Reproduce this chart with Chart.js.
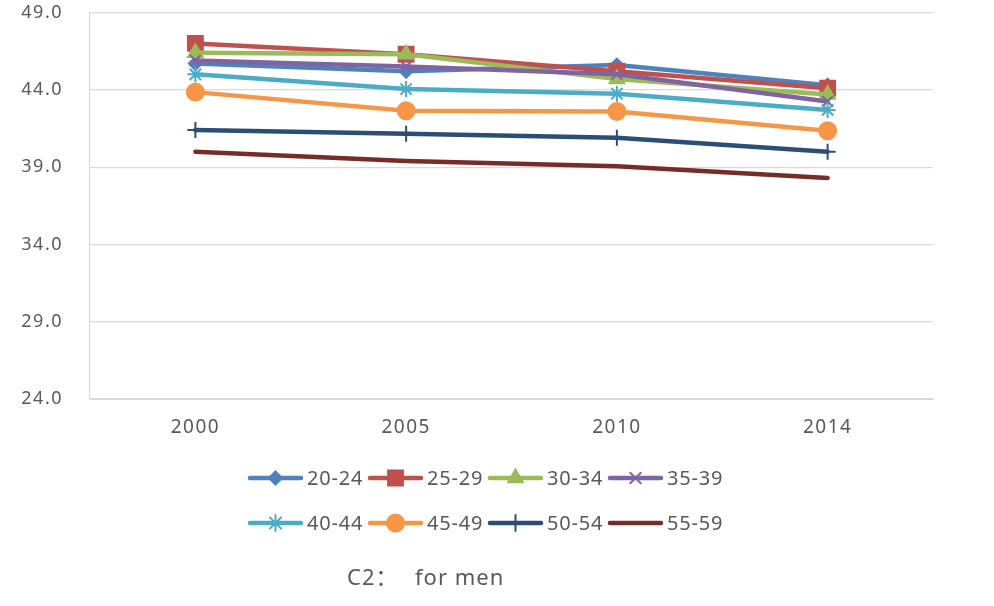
<!DOCTYPE html>
<html>
<head>
<meta charset="utf-8">
<script src="https://cdn.jsdelivr.net/npm/chart.js@4/dist/chart.umd.min.js"></script>
<style>
  html, body { margin: 0; padding: 0; background: #ffffff; }
  #wrap { position: relative; width: 994px; height: 606px; }
</style>
</head>
<body>
<div id="wrap"><canvas id="c" width="994" height="606"></canvas></div>
<script>
// Survey years on the x axis
const years = ['2000', '2005', '2010', '2014'];

// Age groups (one line each)
const groups = ['20-24', '25-29', '30-34', '35-39', '40-44', '45-49', '50-54', '55-59'];

// Values per age group, in year order
const v20_24 = [45.7, 45.2, 45.6, 44.3];
const v25_29 = [47.0, 46.3, 45.2, 44.1];
const v30_34 = [46.4, 46.3, 44.7, 43.7];
const v35_39 = [45.9, 45.5, 45.0, 43.25];
const v40_44 = [45.0, 44.05, 43.75, 42.7];
const v45_49 = [43.85, 42.65, 42.6, 41.35];
const v50_54 = [41.4, 41.15, 40.9, 40.0];
const v55_59 = [40.0, 39.4, 39.05, 38.3];

// Value axis range and step
const yMin = 24, yMax = 49, yStep = 5;

const caption = 'C2：';
const captionTail = 'for men';

const seriesValues = [v20_24, v25_29, v30_34, v35_39, v40_44, v45_49, v50_54, v55_59];
const colors = ['#4F81BD', '#C0504D', '#9BBB59', '#8064A2', '#4BACC6', '#F79646', '#2C4D75', '#772C2A'];
const markers = ['rectRot', 'rect', 'triangle', 'crossRot', 'star', 'circle', 'cross', false];
const radii = [6.5, 10.5, 8.5, 7.5, 8, 8.5, 8, 0];

const TEXT = '#595959';
const FONT = '"Noto Sans", "Open Sans", sans-serif';

const datasets = groups.map((g, i) => ({
  label: g,
  data: seriesValues[i],
  borderColor: colors[i],
  backgroundColor: colors[i],
  borderWidth: 4.5,
  borderJoinStyle: 'round',
  borderCapStyle: 'round',
  tension: 0,
  pointStyle: markers[i],
  pointRadius: radii[i],
  pointHoverRadius: radii[i],
  pointBackgroundColor: colors[i],
  pointBorderColor: colors[i],
  pointBorderWidth: 2,
  order: groups.length - i
}));

// Small marker painter used for the legend swatches
function drawMarker(ctx, style, x, y, r, color) {
  if (!style || !r) return;
  ctx.save();
  ctx.fillStyle = color;
  ctx.strokeStyle = color;
  ctx.lineWidth = 2;
  ctx.beginPath();
  const d = r * Math.SQRT1_2;
  switch (style) {
    case 'rectRot':
      ctx.moveTo(x, y - r); ctx.lineTo(x + r, y); ctx.lineTo(x, y + r); ctx.lineTo(x - r, y); ctx.closePath();
      ctx.fill(); ctx.stroke(); break;
    case 'rect':
      ctx.rect(x - d, y - d, 2 * d, 2 * d); ctx.fill(); ctx.stroke(); break;
    case 'triangle': {
      const s = Math.sin(Math.PI / 3) * r;
      ctx.moveTo(x, y - r); ctx.lineTo(x + s, y + r / 2); ctx.lineTo(x - s, y + r / 2); ctx.closePath();
      ctx.fill(); ctx.stroke(); break;
    }
    case 'circle':
      ctx.arc(x, y, r, 0, Math.PI * 2); ctx.fill(); ctx.stroke(); break;
    case 'crossRot':
      ctx.moveTo(x - d, y - d); ctx.lineTo(x + d, y + d);
      ctx.moveTo(x - d, y + d); ctx.lineTo(x + d, y - d); ctx.stroke(); break;
    case 'cross':
      ctx.moveTo(x, y - r); ctx.lineTo(x, y + r);
      ctx.moveTo(x - r, y); ctx.lineTo(x + r, y); ctx.stroke(); break;
    case 'star':
      ctx.moveTo(x, y - r); ctx.lineTo(x, y + r);
      ctx.moveTo(x - r, y); ctx.lineTo(x + r, y);
      ctx.moveTo(x - d, y - d); ctx.lineTo(x + d, y + d);
      ctx.moveTo(x - d, y + d); ctx.lineTo(x + d, y - d); ctx.stroke(); break;
  }
  ctx.restore();
}

// Wider tracking for the axis labels, then the legend and caption
const decor = {
  id: 'decor',
  beforeDraw(chart) {
    chart.ctx.letterSpacing = '1.5px';
  },
  afterDraw(chart) {
    const ctx = chart.ctx;
    ctx.save();
    ctx.letterSpacing = '0.8px';
    ctx.font = '20px ' + FONT;
    ctx.textBaseline = 'middle';
    ctx.textAlign = 'left';
    const startX = 248, pitch = 120, rowY = [478, 523], lineLen = 55;
    chart.data.datasets.forEach((ds, i) => {
      const col = i % 4, row = Math.floor(i / 4);
      const x0 = startX + col * pitch, y = rowY[row];
      ctx.strokeStyle = ds.borderColor;
      ctx.lineWidth = 4.5;
      ctx.lineCap = 'round';
      ctx.beginPath();
      ctx.moveTo(x0 + 2, y);
      ctx.lineTo(x0 + lineLen - 2, y);
      ctx.stroke();
      drawMarker(ctx, ds.pointStyle, x0 + lineLen / 2, y, ds.pointRadius, ds.borderColor);
      ctx.fillStyle = TEXT;
      ctx.fillText(ds.label, x0 + lineLen + 4, y + 1);
    });
    ctx.letterSpacing = '1px';
    ctx.font = '22px ' + FONT + ', "Noto Sans CJK SC"';
    ctx.fillText(caption, 347, 579);
    ctx.fillText(captionTail, 415, 579);
    ctx.restore();
    ctx.letterSpacing = '0px';
  }
};

new Chart(document.getElementById('c'), {
  type: 'line',
  data: { labels: years, datasets },
  plugins: [decor],
  options: {
    responsive: false,
    animation: false,
    layout: { padding: { top: 12, right: 61, bottom: 167, left: 0 } },
    plugins: {
      legend: { display: false },
      tooltip: { enabled: false },
      title: { display: false }
    },
    scales: {
      x: {
        offset: true,
        grid: { display: false, drawTicks: false },
        border: { display: true, color: '#D9D9D9', width: 1 },
        ticks: {
          color: TEXT,
          font: { family: FONT, size: 19 },
          padding: 17,
          maxRotation: 0
        },
        afterFit(scale) { scale.height = 40; }
      },
      y: {
        min: yMin,
        max: yMax,
        grid: { color: '#D9D9D9', lineWidth: 1.2, drawTicks: false },
        border: { display: true, color: '#D9D9D9', width: 1.2 },
        ticks: {
          stepSize: yStep,
          color: TEXT,
          font: { family: FONT, size: 18 },
          padding: 27,
          callback: v => Number(v).toFixed(1)
        },
        afterFit(scale) {
          scale.width = 90;
          scale.paddingTop = 0;
          scale.paddingBottom = 0;
        }
      }
    }
  }
});
</script>
</body>
</html>
